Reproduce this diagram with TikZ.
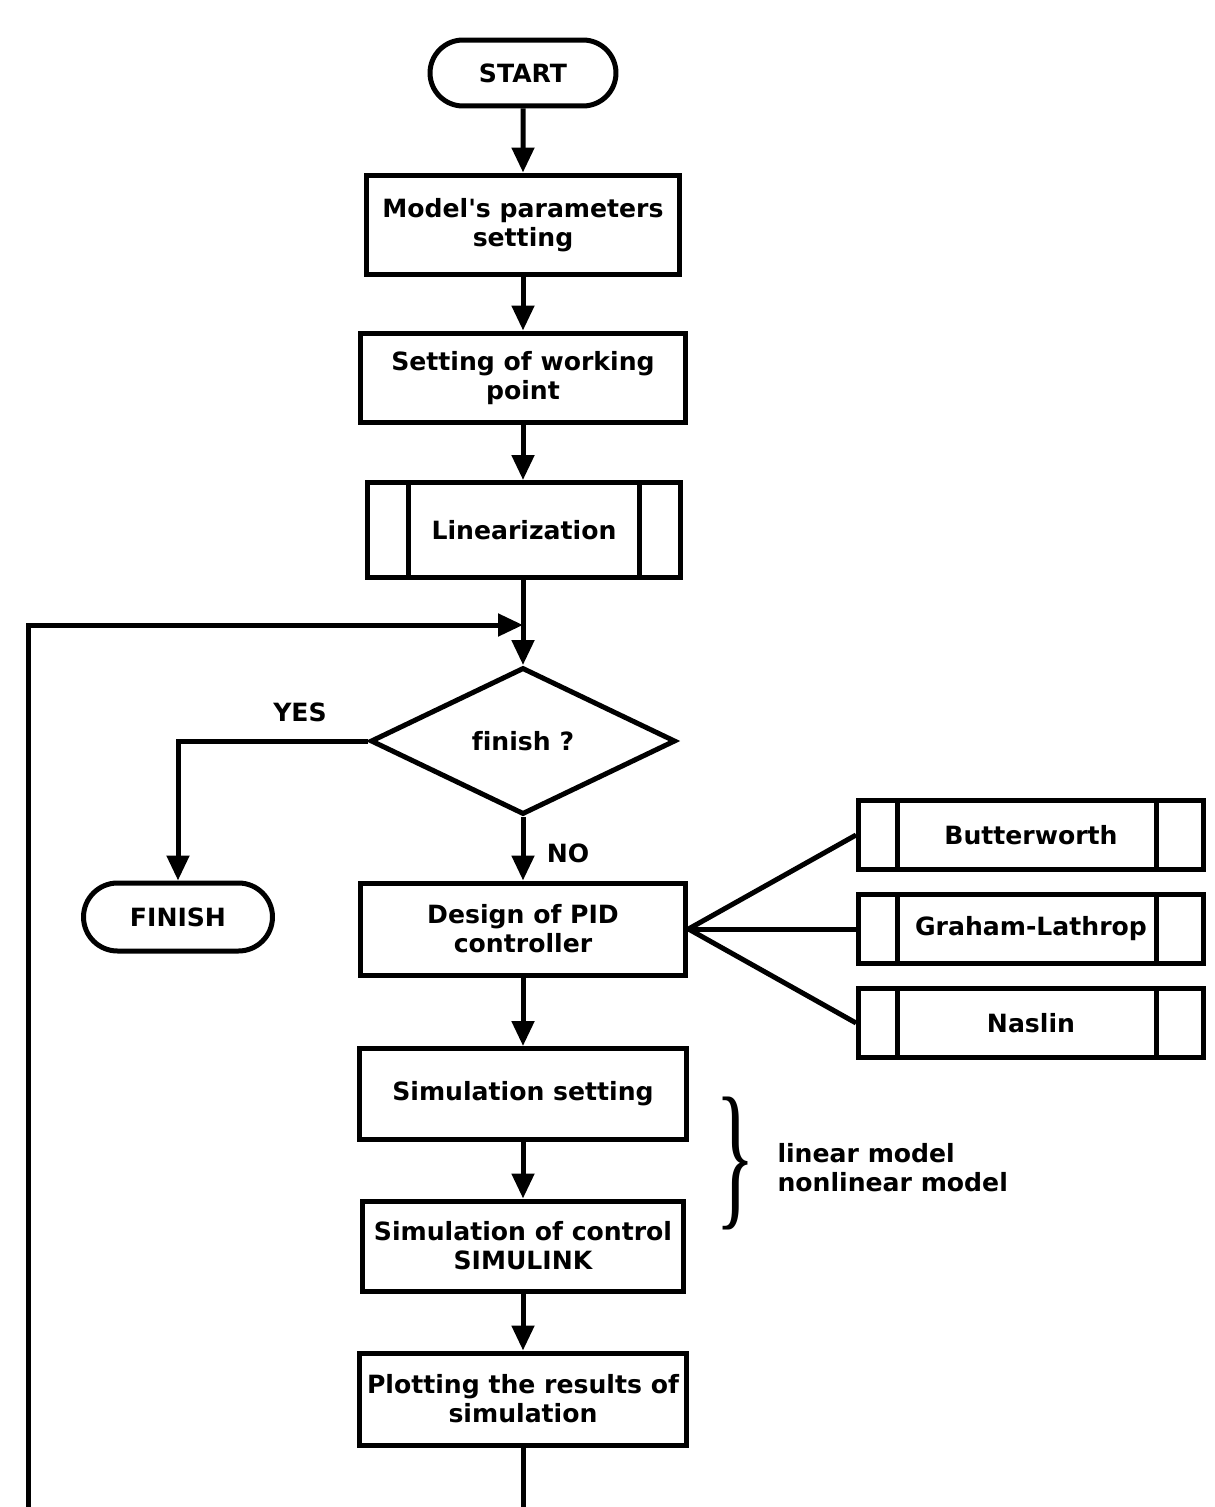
\documentclass[tikz,border=0pt]{standalone}
\usepackage{fontspec}
\setmainfont{DejaVu Sans}
\newfontfamily\bracefont{Liberation Serif}
\usepackage{graphicx}
\usetikzlibrary{shapes.geometric}
\usetikzlibrary{shapes.misc}
\usetikzlibrary{arrows.meta}
\newcommand{\chartfont}{\fontsize{14.3}{16.5}\selectfont\bfseries}
\tikzstyle{block}=[draw, rectangle, inner sep=0, align=center, font=\chartfont]
\tikzstyle{term}=[draw, rounded rectangle, inner sep=0, font=\chartfont]
\tikzstyle{decision}=[draw, diamond, inner sep=0, font=\chartfont]
\tikzstyle{sblock}=[block, minimum width=6.9cm, minimum height=1.38cm]
\tikzstyle{flow}=[-{Triangle[length=0.5cm, width=0.44cm]}]
\tikzstyle{flowchart}=[x=0.02cm, y=-0.02cm, line width=0.1cm,
                       % labels beside the connectors
                       every label/.style={font=\chartfont}]
\begin{document}
\begin{tikzpicture}[flowchart]
    \clip (0, 0) rectangle (1214, 1507);
    \node[term, minimum width=3.72cm, minimum height=1.32cm] (start) at (523, 73) {START};
    \node[block, minimum width=6.26cm, minimum height=2.0cm] (model) at (523, 225) {Model\textquotesingle s parameters\\setting};
    \node[block, minimum width=6.5cm, minimum height=1.8cm] (work) at (523, 378) {Setting of working\\point};
    \node[block, minimum width=6.28cm, minimum height=1.9cm] (lin) at (524, 530) {Linearization};
    \coordinate (join) at (523, 625);
    \node[decision, minimum width=6.1cm, minimum height=2.94cm] (fin) at (523, 741) {f\kern0pt inish ?};
    \node[term, minimum width=3.78cm, minimum height=1.36cm] (stop) at (178, 917) {FINISH};
    \node[block, minimum width=6.52cm, minimum height=1.84cm] (pid) at (523, 929) {Design of PID\\controller};
    \node[sblock] (butter) at (1031, 835) {Butterworth};
    \node[sblock] (graham) at (1031, 929) {Graham-Lathrop};
    \node[sblock] (naslin) at (1031, 1023) {Naslin};
    \node[block, minimum width=6.54cm, minimum height=1.82cm] (simset) at (523, 1094) {Simulation setting};
    \node[block, minimum width=6.44cm, minimum height=1.8cm] (simctl) at (523, 1246) {Simulation of control\\SIMULINK};
    \node[block, minimum width=6.54cm, minimum height=1.84cm] (plot) at (523, 1399) {Plotting the results of\\simulation};
    \node (brace) at (735, 1163) {\resizebox*{0.8cm}{2.66cm}{\bracefont\}}};
    \node[anchor=west, align=left, inner sep=0, font=\chartfont] (models) at (775, 1168) {linear model\\nonlinear model};
    \node[font=\chartfont] (yes) at (300, 712) {YES};
    \node[font=\chartfont] (no) at (568, 853) {NO};
    \foreach \n/\l/\r in {lin/0.88/0.88, butter/0.82/0.98, graham/0.82/0.98, naslin/0.82/0.98} {
        \draw ([xshift=\l cm]\n.north west) -- ([xshift=\l cm]\n.south west);
        \draw ([xshift=-\r cm]\n.north east) -- ([xshift=-\r cm]\n.south east);
    }
    \draw[flow] (start) -- (model);
    \draw[flow] (model) -- (work);
    \draw[flow] (work) -- (work |- lin.north);
    \draw (lin.south -| join) -- (join);
    \draw[flow] (join) -- (fin);
    \draw[flow] (fin.west) -| (stop.north);
    \draw[flow] (fin.south) -- (pid.north);
    \draw (pid.east) -- (butter.west);
    \draw (pid.east) -- (graham.west);
    \draw (pid.east) -- (naslin.west);
    \draw[flow] (pid) -- (simset);
    \draw[flow] (simset) -- (simctl);
    \draw[flow] (simctl) -- (plot);
    \coordinate (back) at (28, 1530);
    \draw[flow, line join=miter] (plot.south) |- (back) |- (join);
\end{tikzpicture}
\end{document}
